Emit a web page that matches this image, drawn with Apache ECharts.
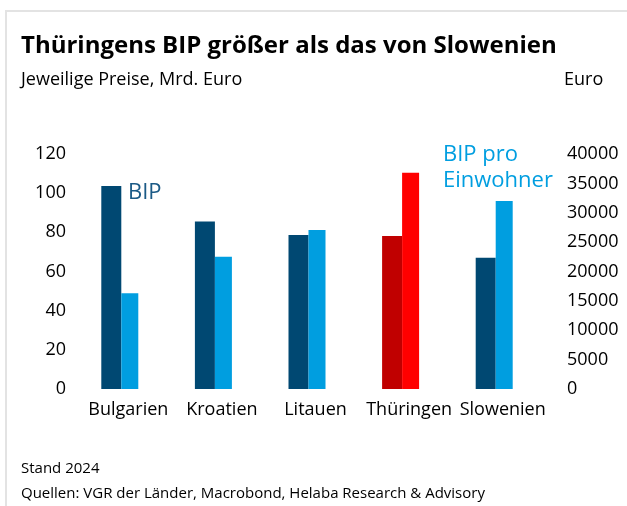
<!DOCTYPE html>
<html>
<head>
<meta charset="utf-8">
<script src="https://cdn.jsdelivr.net/npm/echarts@6/dist/echarts.min.js"></script>
<style>
  html, body { margin: 0; padding: 0; background: #fff; }
  #chart { width: 627px; height: 506px; }
</style>
</head>
<body>
<div id="chart"></div>
<script>
const categories = ["Bulgarien", "Kroatien", "Litauen", "Thüringen", "Slowenien"];
const bipValues = [103.6, 85.5, 78.6, 78.1, 67.0];
const bipProKopf = [16300, 22500, 27050, 36800, 32000];
const leftTicks = { min: 0, max: 120, interval: 20 };
const rightTicks = { min: 0, max: 40000, interval: 5000 };

const DARK_BLUE = "#004872";
const LIGHT_BLUE = "#009ee0";
const DARK_RED = "#c00000";
const RED = "#ff0000";
const FONT = "'Open Sans', sans-serif";

const chart = echarts.init(document.getElementById("chart"));

function textTitle(text, left, top, size, weight) {
  return {
    text, left, top, padding: 0,
    textStyle: { fontSize: size, fontWeight: weight || "normal", color: "#000", fontFamily: FONT }
  };
}

chart.setOption({
  backgroundColor: "#fff",
  animation: false,
  textStyle: { fontFamily: FONT },
  title: [
    textTitle("Thüringens BIP größer als das von Slowenien", 21, 34, 24, "bold"),
    textTitle("Jeweilige Preise, Mrd. Euro", 21, 71, 18),
    textTitle("Euro", 564, 71, 18),
    textTitle("Stand 2024", 21, 461, 15),
    textTitle("Quellen: VGR der Länder, Macrobond, Helaba Research & Advisory", 21, 486, 15)
  ],
  graphic: [
    { type: "line", shape: { x1: 5, y1: 11, x2: 627, y2: 11 }, style: { stroke: "#e3e3e3", lineWidth: 2 } },
    { type: "line", shape: { x1: 6, y1: 10, x2: 6, y2: 506 }, style: { stroke: "#e3e3e3", lineWidth: 2 } },
    {
      type: "text", left: 128, top: 182,
      style: { text: "BIP", fontSize: 22, fill: "#1b5a86", fontFamily: FONT }
    },
    {
      type: "text", left: 443, top: 142,
      style: { text: "BIP pro\nEinwohner", fontSize: 22, lineHeight: 26, fill: LIGHT_BLUE, fontFamily: FONT }
    }
  ],
  grid: { left: 73, right: 86, top: 154, bottom: 117 },
  xAxis: {
    type: "category",
    data: categories,
    axisLine: { show: false },
    axisTick: { show: false },
    axisLabel: { color: "#000", fontSize: 18, margin: 12, padding: [0, 0, 0, 17], interval: 0 }
  },
  yAxis: [
    {
      type: "value",
      position: "left",
      min: leftTicks.min, max: leftTicks.max, interval: leftTicks.interval,
      axisLine: { show: false }, axisTick: { show: false }, splitLine: { show: false },
      axisLabel: { color: "#000", fontSize: 18, margin: 7, formatter: (v) => String(v) }
    },
    {
      type: "value",
      position: "right",
      min: rightTicks.min, max: rightTicks.max, interval: rightTicks.interval,
      axisLine: { show: false }, axisTick: { show: false }, splitLine: { show: false },
      axisLabel: { color: "#000", fontSize: 18, margin: 26, formatter: (v) => String(v) }
    }
  ],
  series: [
    {
      name: "BIP",
      type: "bar",
      yAxisIndex: 0,
      barWidth: 20,
      barGap: "0%",
      data: bipValues.map((v, i) => ({
        value: v,
        itemStyle: { color: categories[i] === "Thüringen" ? DARK_RED : DARK_BLUE }
      }))
    },
    {
      name: "BIP pro Einwohner",
      type: "bar",
      yAxisIndex: 1,
      barWidth: 17,
      barGap: "0%",
      data: bipProKopf.map((v, i) => ({
        value: v,
        itemStyle: { color: categories[i] === "Thüringen" ? RED : LIGHT_BLUE }
      }))
    }
  ]
});
</script>
</body>
</html>
